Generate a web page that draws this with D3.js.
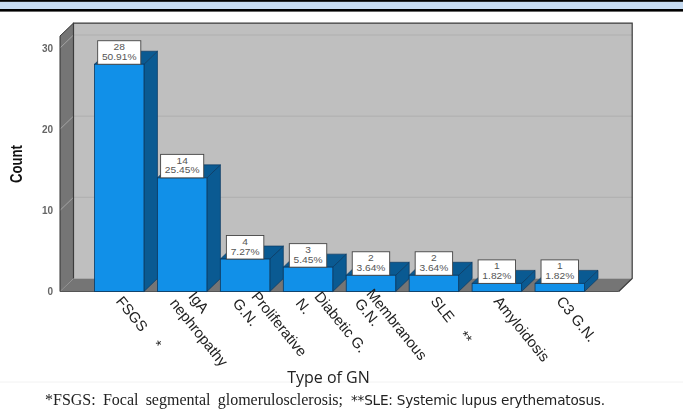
<!DOCTYPE html>
<html>
<head>
<meta charset="utf-8">
<script src="https://cdnjs.cloudflare.com/ajax/libs/d3/7.8.5/d3.min.js"></script>
<style>
html,body{margin:0;padding:0;background:#fff;overflow:hidden}
svg{display:block;filter:blur(0.35px)}
</style>
</head>
<body>
<svg id="c" width="683" height="416"></svg>
<script>
const categories = [["FSGS    *"],["IgA","nephropathy"],["Proliferative","G.N."],["Diabetic G.","N."],["Membranous","G.N."],["SLE    **"],["Amyloidosis"],["C3 G.N."]];
const counts = [28,14,4,3,2,2,1,1];
const percents = ["50.91%","25.45%","7.27%","5.45%","3.64%","3.64%","1.82%","1.82%"];
const yTicks = [0,10,20,30];
const yTop = 31.47;

const svg = d3.select("#c");
const dx = 13.5, dy = -13;
const keys = categories.map((d,i)=>i);
const x = d3.scaleBand().domain(keys).range([94.5,584.5]).paddingInner(0.214).paddingOuter(0);
const y = d3.scaleLinear().domain([0,30]).range([291.5,48]);
const fl = 60, fr = 618.7, by = y(0), ty = y(yTop);
const pts = a => a.map(p=>p.join(",")).join(" ");
const sans = "'Liberation Sans',Arial,sans-serif";

// page header band and footer rule
svg.append("rect").attr("x",0).attr("y",0).attr("width",683).attr("height",10).attr("fill","#c5daf0");
svg.append("rect").attr("x",0).attr("y",0).attr("width",683).attr("height",1.8).attr("fill","#000");
svg.append("rect").attr("x",0).attr("y",9).attr("width",683).attr("height",2.6).attr("fill","#000");
svg.append("line").attr("x1",0).attr("x2",683).attr("y1",382).attr("y2",382).attr("stroke","#f2f2f2");

// walls
svg.append("polygon").attr("points",pts([[fl+dx,ty+dy],[fr+dx,ty+dy],[fr+dx,by+dy],[fl+dx,by+dy]])).attr("fill","#bfbfbf");
svg.append("polygon").attr("points",pts([[fl,ty],[fl+dx,ty+dy],[fl+dx,by+dy],[fl,by]])).attr("fill","#757575");
svg.append("polygon").attr("points",pts([[fl,by],[fl+dx,by+dy],[fr+dx,by+dy],[fr,by]])).attr("fill","#757575");

// gridlines
const grid = svg.append("g");
grid.selectAll(".b").data(yTicks.slice(1)).join("line")
  .attr("x1",fl+dx).attr("x2",fr+dx).attr("y1",d=>y(d)+dy).attr("y2",d=>y(d)+dy)
  .attr("stroke","#aeaeae").attr("stroke-width",0.9);
grid.selectAll(".s").data(yTicks.slice(1)).join("polyline")
  .attr("points",d=>pts([[fl,y(d)],[fl+dx,y(d)+dy]]))
  .attr("fill","none").attr("stroke","#a8a8a8").attr("stroke-width",0.9);

// frame
svg.append("path").attr("d",`M${fl+dx},${by+dy}V${ty+dy}H${fr+dx}V${by+dy}L${fr},${by}`)
  .attr("fill","none").attr("stroke","#3c3c3c").attr("stroke-width",1.2);
svg.append("path").attr("d",`M${fl},${by}V${ty}L${fl+dx},${ty+dy}`)
  .attr("fill","none").attr("stroke","#333").attr("stroke-width",1);
svg.append("line").attr("x1",fl).attr("x2",fr).attr("y1",by).attr("y2",by).attr("stroke","#555").attr("stroke-width",1);

// bars
const bars = svg.append("g").selectAll("g").data(keys).join("g");
const bw = x.bandwidth();
bars.append("polygon").attr("points",i=>{const a=x(i),t=y(counts[i]);
  return pts([[a+bw,t],[a+bw+dx,t+dy],[a+bw+dx,by+dy],[a+bw,by]]);})
  .attr("fill","#0a5a92").attr("stroke","#0b3a62").attr("stroke-width",0.7);
bars.append("polygon").attr("points",i=>{const a=x(i),t=y(counts[i]);
  return pts([[a,t],[a+dx,t+dy],[a+bw+dx,t+dy],[a+bw,t]]);})
  .attr("fill","#0a5a92").attr("stroke","#0b3a62").attr("stroke-width",0.7);
bars.append("rect").attr("x",i=>x(i)).attr("y",i=>y(counts[i]))
  .attr("width",bw).attr("height",i=>by-y(counts[i]))
  .attr("fill","#1190e8").attr("stroke","#0b3a62").attr("stroke-width",0.8);

// value labels: small type stretched wide, as in the reference
const lab = svg.append("g").selectAll("g").data(keys).join("g")
  .attr("transform",i=>`translate(${x(i)+bw/2},${y(counts[i])-23.5})`);
lab.append("rect").attr("fill","#fff").attr("stroke","#444").attr("stroke-width",0.9)
  .attr("y",0).attr("height",23.5);
lab.append("text").attr("class","n").attr("text-anchor","middle").attr("y",9.6).text(i=>counts[i]);
lab.append("text").attr("class","p").attr("text-anchor","middle").attr("y",19).text(i=>percents[i]);
lab.selectAll("text").attr("font-family",sans).attr("font-size",8.8).attr("fill","#555");
lab.each(function(i){
  const g=d3.select(this), t=g.select("text.p"), l=t.node().getComputedTextLength();
  t.attr("textLength",l*1.16).attr("lengthAdjust","spacingAndGlyphs");
  const n=g.select("text.n"), m=n.node().getComputedTextLength();
  n.attr("textLength",m*1.16).attr("lengthAdjust","spacingAndGlyphs");
  const w=l*1.16+8.5;
  g.select("rect").attr("x",-w/2).attr("width",w);
});

// y axis
const yAxis = svg.append("g").attr("transform",`translate(${fl},0)`)
  .call(d3.axisLeft(y).tickValues(yTicks).tickSize(0).tickPadding(7));
yAxis.select(".domain").remove();
yAxis.selectAll("text").attr("font-family",sans)
  .attr("font-size",10).attr("font-weight","bold").attr("fill","#666");

svg.append("text").attr("transform","translate(21.5,164) rotate(-90)").attr("text-anchor","middle")
  .attr("font-family",sans).attr("font-weight","bold").attr("font-size",16)
  .attr("textLength",38).attr("lengthAdjust","spacingAndGlyphs").attr("fill","#111").text("Count");

// x labels; the source's hand-placed wrapped labels need small nudges
const blockNudge = k => k===4 ? -4 : 0;
const firstAlong = k => (k===4 ? 0 : 6.5);
const xl = svg.append("g").selectAll("text").data(keys).join("text")
  .attr("font-family",sans).attr("font-size",14.8).attr("fill","#222")
  .style("white-space","pre")
  .attr("transform",i=>`translate(${x(i)+bw/2-3+blockNudge(i)},${by+4}) rotate(51)`);
xl.selectAll("tspan").data(i=>categories[i].map(t=>({t,n:categories[i].length,i}))).join("tspan")
  .attr("x",(d,j)=> j ? 0 : (d.n>1 ? firstAlong(d.i) : 4))
  .attr("dy",(d,j)=> j ? (d.i===4 ? "1.02em" : "1.27em") : (d.n>1 ? (d.i===4 ? "-0.15em" : "-0.4em") : "0.3em"))
  .text(d=>d.t);

// x title and footnote
svg.append("text").attr("x",328.5).attr("y",383).attr("text-anchor","middle")
  .attr("font-family","'Open Sans',sans-serif").attr("font-size",16).attr("fill","#222").text("Type of GN");
const note = svg.append("text").attr("x",45).attr("y",405).attr("font-family","'Liberation Serif',serif")
  .attr("font-size",16).attr("fill","#222")
  .text("*FSGS: Focal segmental glomerulosclerosis;");
note.attr("word-spacing",(298-note.node().getComputedTextLength())/3);
svg.append("text").attr("x",351).attr("y",405).attr("font-family","'DejaVu Sans',sans-serif")
  .attr("font-size",13.6).attr("fill","#222").attr("textLength",254).attr("lengthAdjust","spacing")
  .text("**SLE: Systemic lupus erythematosus.");
</script>
</body>
</html>
